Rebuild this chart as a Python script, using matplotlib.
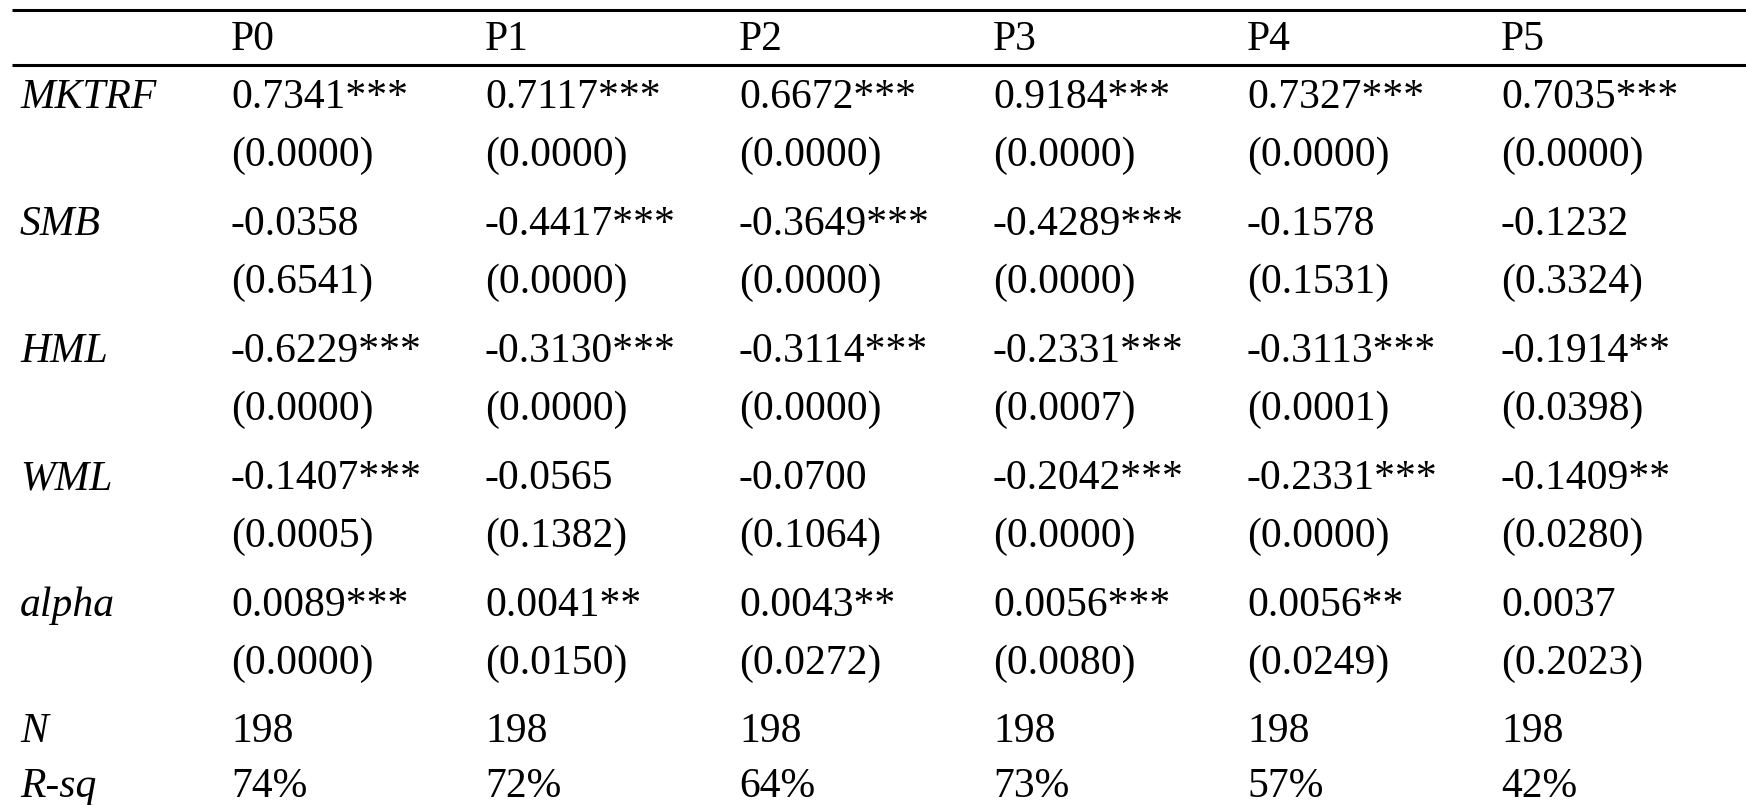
import matplotlib
matplotlib.use('Agg')
import matplotlib.pyplot as plt

columns = ['P0', 'P1', 'P2', 'P3', 'P4', 'P5']
factors = ['MKTRF', 'SMB', 'HML', 'WML', 'alpha']

coef = {
    'MKTRF': ['0.7341***', '0.7117***', '0.6672***', '0.9184***', '0.7327***', '0.7035***'],
    'SMB':   ['-0.0358', '-0.4417***', '-0.3649***', '-0.4289***', '-0.1578', '-0.1232'],
    'HML':   ['-0.6229***', '-0.3130***', '-0.3114***', '-0.2331***', '-0.3113***', '-0.1914**'],
    'WML':   ['-0.1407***', '-0.0565', '-0.0700', '-0.2042***', '-0.2331***', '-0.1409**'],
    'alpha': ['0.0089***', '0.0041**', '0.0043**', '0.0056***', '0.0056**', '0.0037'],
}
pvals = {
    'MKTRF': ['0.0000', '0.0000', '0.0000', '0.0000', '0.0000', '0.0000'],
    'SMB':   ['0.6541', '0.0000', '0.0000', '0.0000', '0.1531', '0.3324'],
    'HML':   ['0.0000', '0.0000', '0.0000', '0.0007', '0.0001', '0.0398'],
    'WML':   ['0.0005', '0.1382', '0.1064', '0.0000', '0.0000', '0.0280'],
    'alpha': ['0.0000', '0.0150', '0.0272', '0.0080', '0.0249', '0.2023'],
}
n_obs = ['198', '198', '198', '198', '198', '198']
rsq = ['74%', '72%', '64%', '73%', '57%', '42%']

W, H = 1746, 805
fig = plt.figure(figsize=(W / 100, H / 100), dpi=100)
ax = fig.add_axes([0, 0, 1, 1])
ax.set_xlim(0, W)
ax.set_ylim(H, 0)
ax.axis('off')

font = 'Liberation Serif'
fs = 30
label_x = 20
col_x = [231 + 254 * i for i in range(len(columns))]

# rules
ax.hlines([10.5, 65.5], 12, W, color='black', lw=2.2)

# header
for x, c in zip(col_x, columns):
    ax.text(x, 50, c, fontsize=fs, family=font, va='baseline', ha='left')

# factor rows
y = 108
for f in factors:
    ax.text(label_x, y, f, fontsize=fs, family=font, style='italic', va='baseline')
    for x, v, p in zip(col_x, coef[f], pvals[f]):
        ax.text(x, y, v, fontsize=fs, family=font, va='baseline')
        ax.text(x, y + 58, '(' + p + ')', fontsize=fs, family=font, va='baseline')
    y += 127

# N and R-sq
ax.text(label_x, 742, 'N', fontsize=fs, family=font, style='italic', va='baseline')
ax.text(label_x, 797, 'R-sq', fontsize=fs, family=font, style='italic', va='baseline')
for x, n, r in zip(col_x, n_obs, rsq):
    ax.text(x, 742, n, fontsize=fs, family=font, va='baseline')
    ax.text(x, 797, r, fontsize=fs, family=font, va='baseline')

fig.savefig('out.png', dpi=100)
